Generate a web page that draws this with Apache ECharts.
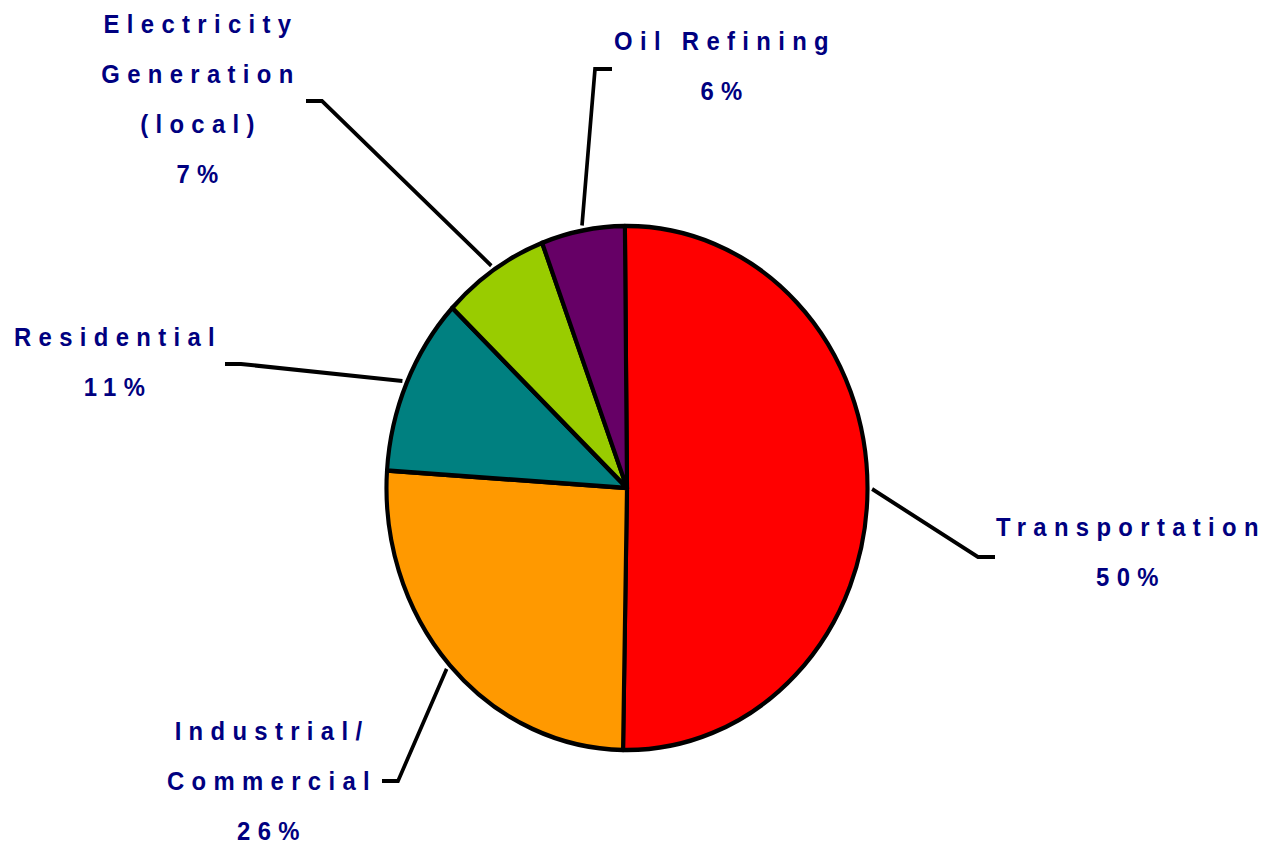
<!DOCTYPE html>
<html>
<head>
<meta charset="utf-8">
<script src="https://cdn.jsdelivr.net/npm/echarts@6/dist/echarts.min.js"></script>
<style>
  html, body { margin: 0; padding: 0; background: #fff; overflow: hidden; }
  #wrap { width: 1268px; height: 843px; overflow: hidden; }
  /* the original is squeezed sideways, so draw wide and scale back */
  #chart { width: 1381px; height: 843px; transform: scaleX(0.918); transform-origin: 0 0; }
  #chart text { letter-spacing: 8px; }
</style>
</head>
<body>
<div id="wrap"><div id="chart"></div></div>
<script>
var sectors = ['Transportation', 'Industrial/\nCommercial', 'Residential', 'Electricity\nGeneration\n(local)', 'Oil Refining'];
var shares = [50.4, 25.8, 11.0, 7.2, 5.6];
var colors = ['#ff0000', '#ff9900', '#008080', '#99cc00', '#660066'];

// leader line bend, stub end and label centre, in page pixels
var SX = 0.918;
var labelSpots = [
  { bend: [978, 557], end: [995, 557], at: [1131, 552] },
  { bend: [398, 781], end: [382, 781], at: [272, 781] },
  { bend: [241, 364], end: [225, 364], at: [118, 362] },
  { bend: [322, 101], end: [306, 101], at: [201, 99] },
  { bend: [595, 69], end: [612, 69], at: [725, 66] }
];

var cx = 627 / SX, cy = 488, radius = 262;

var pieData = [];
for (var i = 0; i < sectors.length; i++) {
  pieData.push({ name: sectors[i], value: shares[i], itemStyle: { color: colors[i] } });
}

var chart = echarts.init(document.getElementById('chart'), null, { renderer: 'svg' });
chart.setOption({
  animation: false,
  backgroundColor: '#fff',
  series: [{
    type: 'pie',
    center: [cx, cy],
    radius: radius,
    startAngle: 90.5,
    clockwise: true,
    avoidLabelOverlap: false,
    data: pieData,
    itemStyle: { borderColor: '#000', borderWidth: 4.5 },
    emphasis: { disabled: true },
    label: {
      show: true,
      position: 'outside',
      color: '#000080',
      fontFamily: 'Liberation Sans, Arial, sans-serif',
      fontWeight: 'bold',
      fontSize: 26,
      lineHeight: 50,
      formatter: function (p) { return p.name + '\n' + Math.round(p.value) + '%'; }
    },
    labelLine: { show: true, lineStyle: { color: '#000', width: 4 } },
    labelLayout: function (p) {
      var s = labelSpots[p.dataIndex];
      var st = p.labelLinePoints[0];
      var dx = st[0] - cx, dy = st[1] - cy;
      var d = Math.sqrt(dx * dx + dy * dy);
      var start = [st[0] + dx / d * 5, st[1] + dy / d * 5];
      return {
        x: s.at[0] / SX,
        y: s.at[1],
        align: 'center',
        verticalAlign: 'middle',
        labelLinePoints: [start, [s.bend[0] / SX, s.bend[1]], [s.end[0] / SX, s.end[1]]]
      };
    }
  }]
});
</script>
</body>
</html>
